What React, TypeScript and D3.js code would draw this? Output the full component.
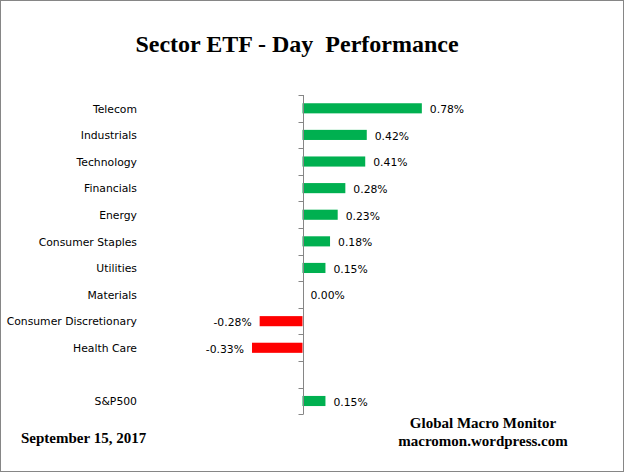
import * as d3 from 'd3';
import { useEffect, useRef } from 'react';

// данные с картинки
const sectors = [
	'Telecom',
	'Industrials',
	'Technology',
	'Financials',
	'Energy',
	'Consumer Staples',
	'Utilities',
	'Materials',
	'Consumer Discretionary',
	'Health Care',
	'',
	'S&P500',
];
const dayChange = [0.78, 0.42, 0.41, 0.28, 0.23, 0.18, 0.15, 0.0, -0.28, -0.33, NaN, 0.15];
const valueLabels = ['0.78%', '0.42%', '0.41%', '0.28%', '0.23%', '0.18%', '0.15%', '0.00%', '-0.28%', '-0.33%', '', '0.15%'];

const W = 625;
const H = 473;
const labelFont = '"DejaVu Sans", Verdana, sans-serif';
const serif = '"Liberation Serif", "Times New Roman", serif';

export default function App() {
	const ref = useRef<SVGSVGElement>(null);

	useEffect(() => {
		const svg = d3.select(ref.current);
		svg.selectAll('*').remove();

		const keys = sectors.map((s, i) => i + ':' + s);
		const scaleY = d3.scaleBand().domain(keys).range([95, 414.3]).paddingInner(0.62).paddingOuter(0.31);
		const scaleX = d3.scaleLinear().domain([-1.5, 1.5]).range([73, 532]);

		// рамка
		svg.append('rect').attr('x', 0.5).attr('y', 0.5).attr('width', W - 2).attr('height', H - 2)
			.attr('fill', '#fff').attr('stroke', '#868686');

		// заголовок
		svg.append('text').attr('x', 297).attr('y', 52).attr('text-anchor', 'middle')
			.style('font-family', serif).style('font-weight', 'bold').style('font-size', '24px')
			.style('white-space', 'pre').text('Sector ETF - Day  Performance');

		// бары
		svg.append('g').selectAll('rect').data(dayChange.map((v, i) => ({ v, k: keys[i] })).filter((d) => !isNaN(d.v) && d.v !== 0))
			.enter().append('rect')
			.attr('x', (d) => scaleX(Math.min(0, d.v)))
			.attr('width', (d) => Math.abs(scaleX(d.v) - scaleX(0)))
			.attr('y', (d) => scaleY(d.k)!)
			.attr('height', scaleY.bandwidth())
			.attr('fill', (d) => (d.v >= 0 ? '#00B050' : '#FF0000'));

		const step = scaleY.step();
		const mid = (k: string) => scaleY(k)! + scaleY.bandwidth() / 2;

		// ось
		const x0 = Math.round(scaleX(0)) + 0.5;
		svg.append('line').attr('x1', x0).attr('x2', x0).attr('y1', 95).attr('y2', 414.3).attr('stroke', '#868686');
		d3.range(sectors.length + 1).forEach((i) => {
			const y = Math.round(95 + i * step) + 0.5;
			svg.append('line').attr('x1', x0 - 5).attr('x2', x0).attr('y1', y).attr('y2', y).attr('stroke', '#868686');
		});

		// подписи категорий
		svg.append('g').selectAll('text').data(keys).enter().append('text')
			.attr('x', 137).attr('y', (k) => mid(k) + 0.5).attr('dy', '0.35em').attr('text-anchor', 'end')
			.style('font-family', labelFont).style('font-size', '10.8px').attr('fill', '#000')
			.text((k) => k.split(':')[1]);

		// подписи значений
		svg.append('g').selectAll('text').data(dayChange.map((v, i) => ({ v, k: keys[i], t: valueLabels[i] })).filter((d) => d.t))
			.enter().append('text')
			.attr('x', (d) => (d.v < 0 ? scaleX(d.v) - 8 : scaleX(d.v) + 8))
			.attr('y', (d) => mid(d.k) + 1).attr('dy', '0.35em')
			.attr('text-anchor', (d) => (d.v < 0 ? 'end' : 'start'))
			.style('font-family', labelFont).style('font-size', '10.8px').attr('fill', '#000')
			.text((d) => d.t);

		// подвал
		const foot = (x: number, y: number, anchor: string, t: string) =>
			svg.append('text').attr('x', x).attr('y', y).attr('text-anchor', anchor)
				.style('font-family', serif).style('font-weight', 'bold').style('font-size', '15px').text(t);
		foot(21, 443, 'start', 'September 15, 2017');
		foot(483, 428, 'middle', 'Global Macro Monitor');
		foot(483, 446, 'middle', 'macromon.wordpress.com');
	}, []);

	return <svg ref={ref} width={W} height={H} style={{ position: 'absolute', left: 0, top: 0, display: 'block' }}></svg>;
}
